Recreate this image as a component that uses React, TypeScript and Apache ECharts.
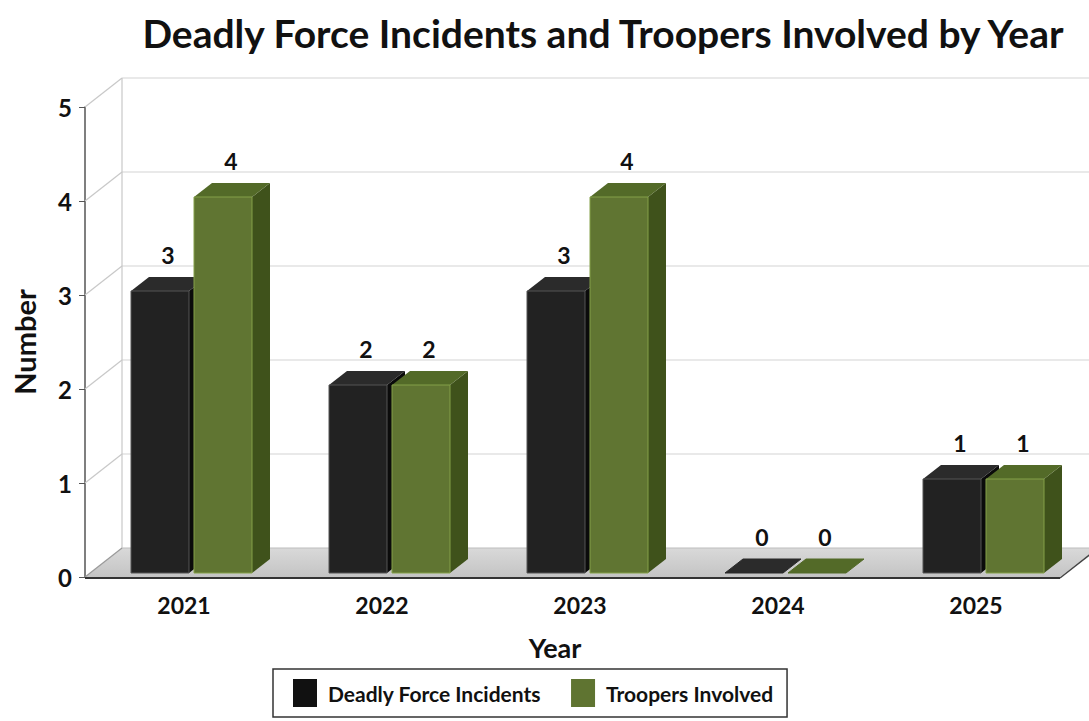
import React, { useEffect, useRef } from "react";
import * as echarts from "echarts";

const years = ["2021", "2022", "2023", "2024", "2025"];
const incidents = [3, 2, 3, 0, 1];
const troopers = [4, 2, 4, 0, 1];
const yTicks = [0, 1, 2, 3, 4, 5];

const FONT = "Lato";
const WALL_DX = 37;
const WALL_DY = -29;
const BAR_DX = 18;
const BAR_DY = -14;
const BAR_W = 58;

function makeBarRender(offset: number, colors: { front: string; top: string; side: string; edge: string }) {
  return (params: any, api: any) => {
    const i = api.value(0);
    const v = api.value(1);
    const base = api.coord([i, 0]);
    const top = api.coord([i, v]);
    const cx = base[0] + offset;
    const xl = cx - BAR_W / 2;
    const xr = cx + BAR_W / 2;
    const yb = base[1] - 4;
    const yt = top[1] - 4;
    const children: any[] = [];
    if (v > 0) {
      children.push({
        type: "polygon",
        shape: { points: [[xr, yt], [xr + BAR_DX, yt + BAR_DY], [xr + BAR_DX, yb + BAR_DY], [xr, yb]] },
        style: { fill: colors.side },
      });
    }
    children.push({
      type: "polygon",
      shape: { points: [[xl, yt], [xl + BAR_DX, yt + BAR_DY], [xr + BAR_DX, yt + BAR_DY], [xr, yt]] },
      style: { fill: colors.top, stroke: v > 0 ? null : colors.top, lineWidth: 1 },
    });
    if (v > 0) {
      children.push({
        type: "rect",
        shape: { x: xl, y: yt, width: BAR_W, height: yb - yt },
        style: { fill: colors.front, stroke: colors.edge, lineWidth: 1 },
      });
    }
    children.push({
      type: "text",
      style: {
        text: String(v),
        x: cx + 8,
        y: yt - 36,
        align: "center",
        verticalAlign: "middle",
        font: `bold 23px ${FONT}`,
        fill: "#111",
      },
    });
    return { type: "group", children };
  };
}

export default function App() {
  const ref = useRef<HTMLDivElement>(null);
  useEffect(() => {
    const chart = echarts.init(ref.current!, null, { renderer: "svg" });
    const option: any = {
      animation: false,
      backgroundColor: "#ffffff",
      title: {
        text: "Deadly Force Incidents and Troopers Involved by Year",
        left: 598,
        top: 8,
        textAlign: "center",
        textStyle: { fontFamily: FONT, fontWeight: "bold", fontSize: 39, color: "#111" },
      },
      legend: {
        left: 273,
        top: 669,
        width: 513,
        orient: "horizontal",
        data: ["Deadly Force Incidents", "Troopers Involved"],
        icon: "rect",
        itemWidth: 24,
        itemHeight: 28,
        itemGap: 30,
        padding: [10, 14, 10, 20],
        borderColor: "#333",
        borderWidth: 1.5,
        textStyle: { fontFamily: FONT, fontWeight: "bold", fontSize: 21, color: "#111", padding: [0, 0, 0, 6] },
      },
      grid: { left: 85, top: 107, width: 990, height: 470, outerBoundsMode: "none", containLabel: false },
      xAxis: {
        type: "category",
        data: years,
        axisLine: { show: false },
        axisTick: { show: false },
        axisLabel: { fontFamily: FONT, fontWeight: "bold", fontSize: 23, color: "#111", margin: 16 },
        name: "Year",
        nameLocation: "middle",
        nameGap: 57,
        nameTextStyle: { fontFamily: FONT, fontWeight: "bold", fontSize: 27, color: "#111", padding: [0, 50, 0, 0] },
        splitLine: { show: false },
      },
      yAxis: {
        type: "value",
        min: 0,
        max: 5,
        interval: 1,
        axisLine: { show: true, lineStyle: { color: "#555", width: 1.5 } },
        axisTick: { show: true, length: 6, lineStyle: { color: "#555" } },
        axisLabel: { fontFamily: FONT, fontWeight: "bold", fontSize: 24, color: "#111", margin: 13 },
        splitLine: { show: false },
        name: "Number",
        nameLocation: "middle",
        nameRotate: 90,
        nameGap: 46,
        nameTextStyle: { fontFamily: FONT, fontWeight: "bold", fontSize: 29, color: "#111" },
      },
      series: [
        {
          type: "custom",
          name: "frame",
          silent: true,
          z: 1,
          data: [[0, 0]],
          renderItem: (params: any, api: any) => {
            const cs = params.coordSys;
            const x0 = cs.x;
            const y0 = api.coord([0, 0])[1];
            const W = api.getWidth();
            const floorRight = cs.x + cs.width - 15;
            const children: any[] = [];
            const backRightY = y0 + WALL_DY + ((floorRight + WALL_DX - W) * -WALL_DY) / WALL_DX;
            children.push({
              type: "polygon",
              shape: {
                points: [[x0, y0], [x0 + WALL_DX, y0 + WALL_DY], [W, y0 + WALL_DY], [W, backRightY], [floorRight, y0]],
              },
              style: {
                fill: new echarts.graphic.LinearGradient(0, 0, 0, 1, [
                  { offset: 0, color: "#d9d9d9" },
                  { offset: 1, color: "#c4c4c4" },
                ]),
              },
            });
            yTicks.forEach((t) => {
              const y = api.coord([0, t])[1];
              if (t > 0) {
                children.push({
                  type: "line",
                  shape: { x1: x0, y1: y, x2: x0 + WALL_DX, y2: y + WALL_DY },
                  style: { stroke: "#c8c8c8", lineWidth: 1.2 },
                });
              }
              children.push({
                type: "line",
                shape: { x1: x0 + WALL_DX, y1: y + WALL_DY, x2: W, y2: y + WALL_DY },
                style: { stroke: t === 0 ? "#bdbdbd" : "#d4d4d4", lineWidth: 1.2 },
              });
            });
            const yTop = api.coord([0, 5])[1];
            children.push({
              type: "line",
              shape: { x1: x0 + WALL_DX, y1: yTop + WALL_DY, x2: x0 + WALL_DX, y2: y0 + WALL_DY },
              style: { stroke: "#c8c8c8", lineWidth: 1.2 },
            });
            children.push({
              type: "line",
              shape: { x1: x0, y1: y0, x2: x0 + WALL_DX, y2: y0 + WALL_DY },
              style: { stroke: "#9a9a9a", lineWidth: 1.2 },
            });
            children.push({
              type: "line",
              shape: { x1: x0, y1: y0 + 1, x2: floorRight, y2: y0 + 1 },
              style: { stroke: "#333", lineWidth: 2 },
            });
            children.push({
              type: "line",
              shape: { x1: floorRight, y1: y0 + 1, x2: floorRight + WALL_DX, y2: y0 + 1 + WALL_DY },
              style: { stroke: "#444", lineWidth: 1.5 },
            });
            return { type: "group", children };
          },
        },
        {
          type: "custom",
          name: "Deadly Force Incidents",
          z: 2,
          itemStyle: { color: "#111111" },
          data: years.map((_, i) => [i, incidents[i]]),
          encode: { x: 0, y: 1 },
          renderItem: makeBarRender(-24, { front: "#222222", top: "#2b2b2b", side: "#0b0b0b", edge: "#555555" }),
        },
        {
          type: "custom",
          name: "Troopers Involved",
          z: 3,
          itemStyle: { color: "#5f7431" },
          data: years.map((_, i) => [i, troopers[i]]),
          encode: { x: 0, y: 1 },
          renderItem: makeBarRender(39, { front: "#607532", top: "#536a28", side: "#3f521b", edge: "#84a048" }),
        },
      ],
    };
    chart.setOption(option);
    return () => chart.dispose();
  }, []);
  return <div ref={ref} style={{ width: 1089, height: 721, position: "absolute", left: 0, top: 0 }} />;
}
